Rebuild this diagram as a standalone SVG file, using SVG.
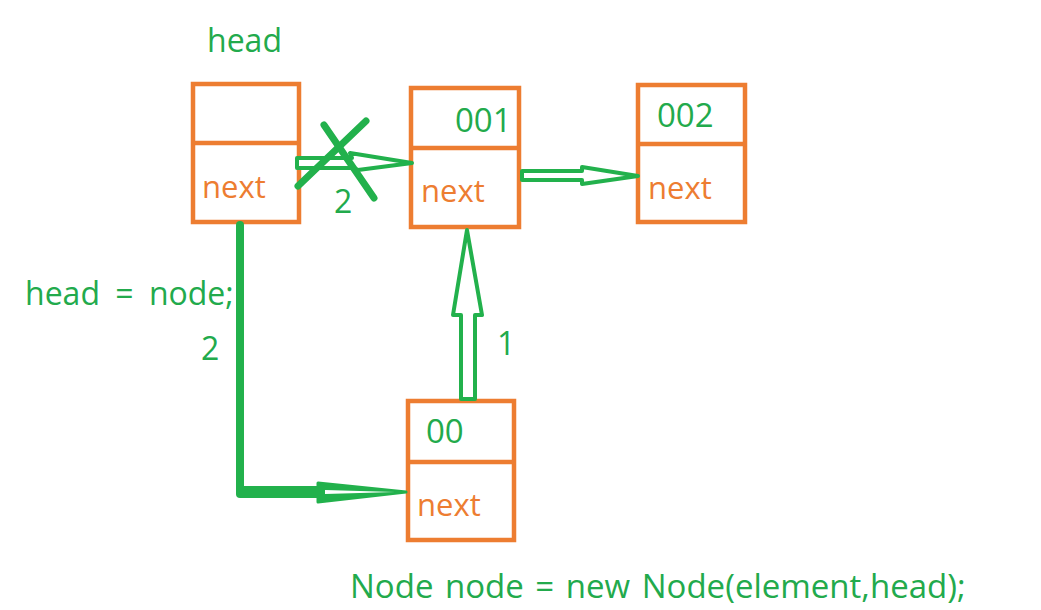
<svg xmlns="http://www.w3.org/2000/svg" width="1041" height="610" viewBox="0 0 1041 610">
<style>
.box{fill:#fff;stroke:#ED7D31;stroke-width:4.5}
.div{stroke:#ED7D31;stroke-width:4.5}
.g{fill:#22AA4C;font-family:"Open Sans","Noto Sans",sans-serif}
.o{fill:#ED7D31;font-family:"Open Sans","Noto Sans",sans-serif;font-size:31px}
.ar{fill:#fff;stroke:#22B14C;stroke-width:4;stroke-linejoin:round}
.ln{stroke:#22B14C;fill:none;stroke-linecap:round}
</style>
<rect width="1041" height="610" fill="#fff"/>
<g id="node-head">
<text class="g" x="207" y="52" font-size="32">head</text>
<rect class="box" x="193" y="84" width="106" height="138"/>
<line class="div" x1="193" y1="143" x2="301" y2="143"/>
<text class="o" x="202" y="198">next</text>
</g>
<g id="node-001">
<rect class="box" x="411" y="88" width="108" height="139"/>
<line class="div" x1="411" y1="148" x2="521" y2="148"/>
<text class="g" x="455" y="132" font-size="33">001</text>
<text class="o" x="421" y="202">next</text>
</g>
<g id="node-002">
<rect class="box" x="638" y="85" width="107" height="137"/>
<line class="div" x1="638" y1="144" x2="747" y2="144"/>
<text class="g" x="657" y="127" font-size="33">002</text>
<text class="o" x="648" y="199">next</text>
</g>
<g id="node-00">
<rect class="box" x="408" y="401" width="106" height="139"/>
<line class="div" x1="408" y1="462" x2="516" y2="462"/>
<text class="g" x="426" y="443" font-size="33">00</text>
<text class="o" x="417" y="516">next</text>
</g>
<g id="connectors">
<polygon class="ar" points="297,158 352,158 350,153 412,163 358,170 354,168 297,168"/>
<line class="ln" stroke-width="7" x1="298" y1="186" x2="366" y2="121"/>
<line class="ln" stroke-width="7" x1="324" y1="125" x2="374" y2="198"/>
<polygon class="ar" points="522,171 582,171 582,167 638,176 582,184 582,180 522,180"/>
<polygon class="ar" points="461,399 461,315 453,315 467,230 482,315 475,315 475,399"/>
<polyline class="ln" stroke-width="8" points="240,225 240,492"/>
<rect x="236" y="486" width="88" height="12" rx="4" fill="#22B14C"/>
<polygon points="318,483 406,492 318,502" fill="#22B14C" stroke="#22B14C" stroke-width="3" stroke-linejoin="round"/>
<polygon points="325,490 395,492 325,494" fill="#fff"/>
</g>
<g id="labels">
<text class="g" x="25" y="305" font-size="32" word-spacing="7">head = node;</text>
<text class="g" x="201" y="360" font-size="32">2</text>
<text class="g" x="334" y="213" font-size="32">2</text>
<text class="g" x="497" y="355" font-size="32">1</text>
<text class="g" x="350" y="598" font-size="33" word-spacing="3">Node node = new Node(element,head);</text>
</g>
</svg>
